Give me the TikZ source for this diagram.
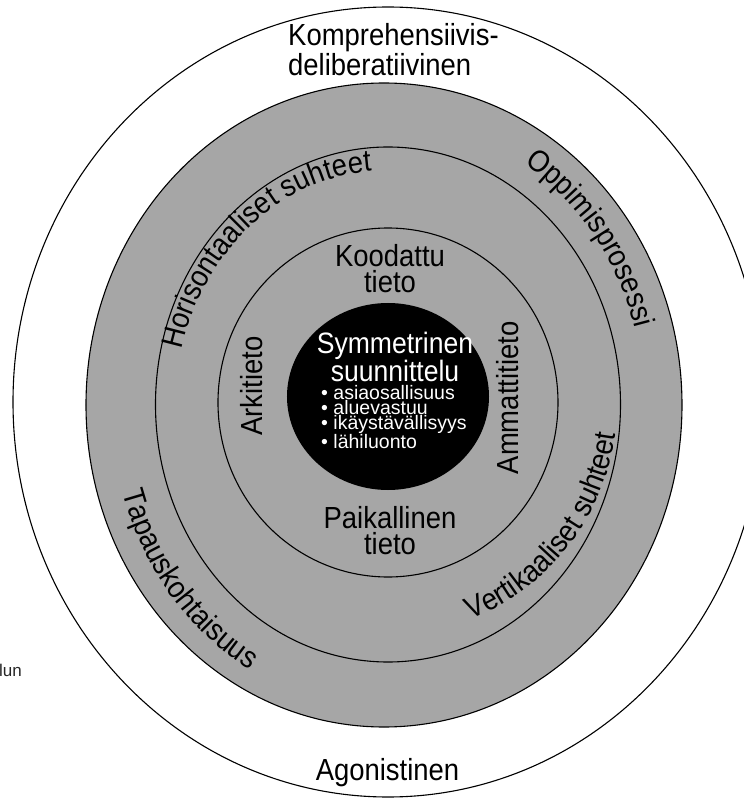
\documentclass[tikz,border=0pt]{standalone}
\usepackage{fontspec}
\setmainfont{Liberation Sans}[FakeStretch=0.9]
\newfontfamily\plainfont{Liberation Sans}
\usetikzlibrary{decorations.text}
\definecolor{ringgray}{RGB}{166,166,166}
\newcommand{\ringfont}{\fontsize{30.5}{27}\selectfont}

\begin{document}
\begin{tikzpicture}[x=1pt,y=1pt,
    ringline/.style={line width=1.1pt},
    ringtext/.style={font=\ringfont, inner sep=0pt, align=center},
    bullets/.style={font=\plainfont\fontsize{19.5}{15}\selectfont, inner sep=0pt, align=left, text=white}]

		\useasboundingbox (-388,-396) rectangle (356,402);

		\coordinate (O) at (0,0);
		\coordinate (G) at (-4,-3);
		\coordinate (H) at (0,-2.5);
		\coordinate (K) at (0,-0.5);
		\coordinate (S) at (0,5.5);

		%%%%%%%%%%%%%%%%%% rings
		\draw [ringline, fill=white] (O) ellipse [x radius=375pt, y radius=395pt];
		\draw [ringline, fill=ringgray] (G) ellipse [x radius=298pt, y radius=322pt];
		\draw [ringline] (H) ellipse [x radius=232.5pt, y radius=257.5pt];
		\draw [ringline] (K) ellipse [x radius=170pt, y radius=174.5pt];
		\fill [black] (S) ellipse [x radius=101pt, y radius=93.5pt];

		\node [ringtext, align=left, anchor=west] (komp) at (-100,352.5) {Komprehensiivis-\\deliberatiivinen};
		\node [ringtext] (agon) at (-0.5,-371) {Agonistinen};
		\node [ringtext, font=\fontsize{30.5}{26}\selectfont] (kood) at (2,133) {Koodattu\\tieto};
		\node [ringtext, font=\fontsize{30.5}{26}\selectfont] (paik) at (2,-128.5) {Paikallinen\\tieto};
		\node [ringtext, rotate=90] (arki) at (-136,16) {Arkitieto};
		\node [ringtext, rotate=90] (amma) at (120,4) {Ammattitieto};

		\node [ringtext, text=white, font=\fontsize{29.5}{24}\selectfont] (symm) at (7,45) {Symmetrinen\\suunnittelu};
		\node [bullets, anchor=west] (lista) at (-67,-15) {• asiaosallisuus\\• aluevastuu\\• ikäystävällisyys\\• lähiluonto};

		\node [font=\plainfont\fontsize{17}{17}\selectfont, text=black!85, inner sep=0pt, anchor=base west] (lun) at (-389,-274) {lun};

		%%%%%%%%%%%%%%%%%% texts along the rings
		\path [decorate, decoration={text along path, text align=center, text={|\ringfont|Horisontaaliset suhteet}}]
			(H) ++(175:212pt and 234pt) arc [start angle=175, end angle=85, x radius=212pt, y radius=234pt];
		\path [decorate, decoration={text along path, text align=center, text={|\ringfont|Oppimisprosessi}}]
			(G) ++(70:261pt and 286pt) arc [start angle=70, end angle=4, x radius=261pt, y radius=286pt];
		\path [decorate, decoration={text along path, text align=center, text={|\ringfont|Tapauskohtaisuus}}]
			(G) ++(188:273pt and 304pt) arc [start angle=188, end angle=250, x radius=273pt, y radius=304pt];
		\path [decorate, decoration={text along path, text align=center, text={|\ringfont|Vertikaaliset suhteet}}]
			(O) ++(283:230pt and 233pt) arc [start angle=283, end angle=360, x radius=230pt, y radius=233pt];

\end{tikzpicture}
\end{document}
